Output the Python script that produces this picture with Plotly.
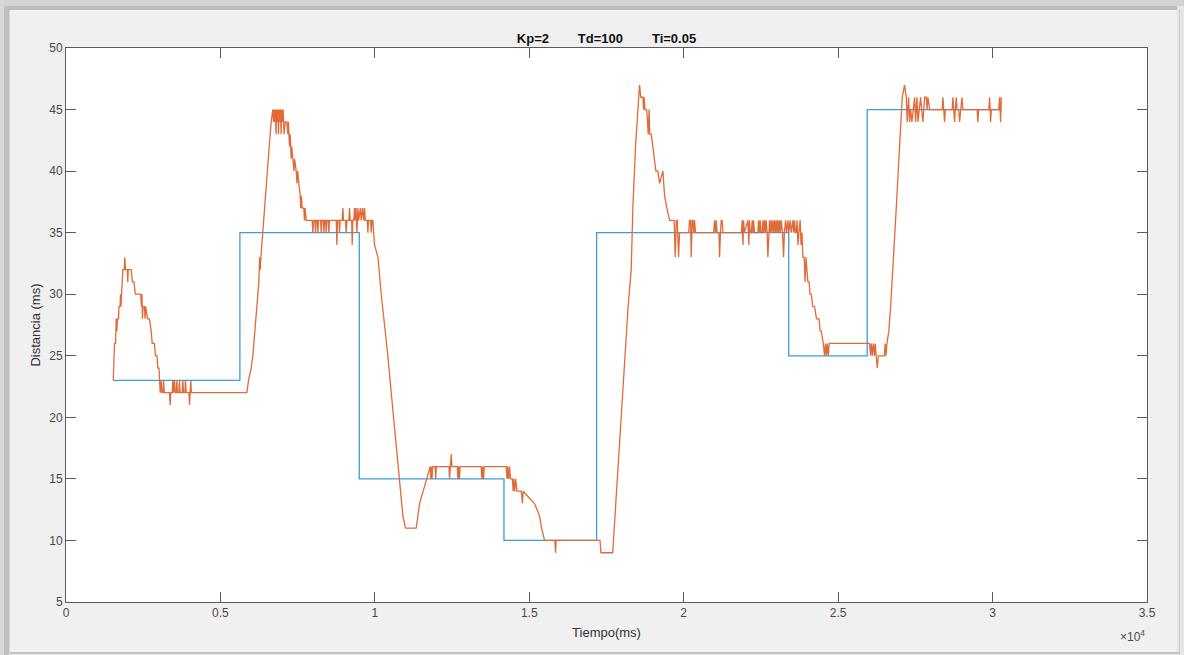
import plotly.graph_objects as go

# ---------------- data ----------------
# Reference (set-point) signal: value holds until the next time
ref_t = [1530, 5630, 9495, 14180, 17180, 23400, 25940, 30300]
ref_y = [23, 35, 15, 10, 35, 25, 45, 45]

out_t = [
    1530, 1570, 1605, 1625, 1645, 1665, 1700, 1715, 1750, 1765, 1780, 1795, 1815, 1840, 1885, 1905, 1925, 1985,
    2000, 2015, 2110, 2150, 2200, 2245, 2420, 2440, 2460, 2475, 2495, 2540, 2560, 2580, 2640, 2700, 2760, 2790,
    2860, 2898, 2950, 2973, 3010, 3030, 3050, 3082, 3105, 3140, 3160, 3180, 3350, 3373, 3395, 3440, 3459, 3480,
    3513, 3535, 3570, 3589, 3610, 3655, 3675, 3695, 3760, 3783, 3805, 3850, 3869, 3890, 3980, 3999, 4020, 4040,
    4060,
    5855, 5910, 5996, 6050, 6158, 6244, 6270, 6290, 6310, 6535, 6580, 6644, 6697,
    6720, 6740, 6760, 6780, 6800, 6820, 6845, 6860, 6880, 6900, 6920, 6945, 6965, 6985, 7010, 7030, 7060, 7080,
    7100, 7130, 7150, 7183, 7200, 7237, 7260, 7290, 7310, 7345, 7380, 7400, 7453, 7480, 7500, 7540, 7583, 7600,
    7620, 7647, 7700, 7720, 7740, 7777,
    7970, 7993, 8015, 8060, 8080, 8100, 8140, 8155, 8175, 8245, 8263, 8283, 8330, 8350, 8370, 8405, 8425, 8445,
    8490, 8511, 8530, 8750, 8770, 8790, 8840, 8856, 8875, 8940, 8964, 8985, 9050, 9072, 9095, 9160, 9180, 9200,
    9250, 9266, 9285, 9320, 9342, 9365, 9390, 9420, 9450, 9475, 9530, 9558, 9600, 9640, 9666, 9690, 9754, 9774,
    9795, 9862, 9882, 9905, 9935,
    9989, 10100, 10206, 10300, 10421, 10530, 10637, 10720, 10799, 10850, 10907, 10993, 11339, 11447, 11560, 11683,
    11793, 11810, 11830, 11850, 11870, 11950, 11970, 11990, 12400, 12419, 12440, 12473, 12495, 12670, 12689, 12710,
    12740, 12760, 13440, 13466, 13490, 13520, 13540, 14254, 14280, 14300, 14330, 14360, 14390, 14450, 14480, 14500,
    14530, 14560, 14600, 14740, 14780, 14800, 15170, 15332, 15400, 15494, 15830, 15850, 15870, 17290, 17320, 17700,
    17800, 18000, 18200, 18300, 18353, 18440, 18570,
    18610, 18680, 18700, 18720, 18745, 18800, 18830, 18850, 18880, 18900, 18950, 19001, 19050, 19100, 19163, 19218,
    19326, 19380, 19455, 19542,
    19690, 19725, 19758, 19790, 19833, 19865, 20160, 20189, 20221, 20243, 20275, 20297, 20330, 20351, 20380, 20970,
    20999, 21030, 21052, 21080, 21140, 21161, 21190, 21215, 21245, 21268, 21870, 21894, 21920, 21937, 21965, 22077,
    22110, 22130, 22153, 22190, 22218, 22240, 22261, 22290, 22400, 22423, 22450, 22477, 22500, 22540, 22564, 22590,
    22617, 22645, 22671, 22700, 22725, 22750, 22779, 22805, 22833, 22860, 22887, 22915, 22941, 22970, 22995, 23020,
    23049, 23075, 23103, 23130, 23157, 23200, 23233, 23260, 23297, 23330, 23373, 23400, 23448, 23480, 23535, 23560,
    23589, 23615, 23643,
    23670, 23700, 23730, 23770, 23800, 23830, 23858, 23900, 23930, 23960, 24020, 24060, 24090, 24130, 24180, 24236,
    24300, 24380, 24420, 24454, 24520, 24560, 24590, 24620, 24650, 24680, 24710, 26017, 26050, 26075, 26110, 26140,
    26180, 26200, 26230, 26267, 26300, 26500, 26520, 26550, 26580, 26640, 26700, 26772, 26826, 26882, 26989, 27044,
    27077, 27150,
    27206, 27238, 27281, 27314, 27346, 27389, 27422, 27476, 27508, 27551, 27584, 27638, 27670, 27702, 27745, 27800,
    27854, 27880, 27908, 27962, 28015, 28370, 28392, 28420, 28446, 28470, 28690, 28716, 28740, 28770, 28795, 28824,
    28850, 28905, 28932, 28960, 28986, 29010, 29040, 29500, 29524, 29550, 29880, 29903, 29920, 29935, 29960, 30200,
    30227, 30245, 30260, 30282,
]
out_y = [
    23, 26, 26, 28, 27, 28, 28, 29, 29, 30, 29, 30, 31, 32, 32, 33, 32, 32,
    31, 32, 32, 31, 31, 30, 30, 29, 30, 28, 29, 29, 28, 29, 28, 28, 27, 26,
    26, 25, 25, 24, 24, 23, 22, 23, 22, 22, 23, 22, 22, 21, 22, 22, 23, 22,
    23, 22, 22, 23, 22, 22, 23, 22, 22, 23, 22, 22, 23, 22, 22, 21, 22, 23,
    22,
    22, 23, 24, 25, 28, 31, 33, 32, 33, 41, 42, 44, 45,
    44, 45, 44, 45, 43, 45, 44, 45, 43, 45, 44, 45, 43, 45, 44, 45, 43, 44,
    44, 44, 44, 43, 44, 42, 43, 41, 42, 41, 40, 41, 40, 39, 40, 39, 38, 37,
    38, 37, 37, 36, 37, 36,
    36, 35, 36, 36, 35, 36, 36, 35, 36, 36, 35, 36, 36, 35, 36, 36, 35, 36,
    36, 35, 36, 36, 34, 36, 36, 35, 36, 36, 37, 36, 36, 35, 36, 36, 37, 36,
    36, 34, 36, 36, 37, 36, 37, 35, 37, 36, 37, 36, 37, 36, 37, 36, 36, 35,
    36, 36, 35, 36, 36,
    34, 33, 30, 28, 25, 22, 19, 17, 15, 13, 12, 11, 11, 13, 14, 15,
    16, 15, 16, 15, 16, 16, 15, 16, 16, 15, 16, 17, 16, 16, 15, 16,
    15, 16, 16, 15, 16, 15, 16, 16, 15, 16, 15, 16, 15, 15, 14, 15,
    14, 15, 14, 14, 13, 14, 13, 12, 11, 10, 10, 9, 10, 10, 9, 9,
    13, 21, 29, 32, 37, 42, 47,
    46, 46, 45, 46, 45, 45, 44, 43, 45, 43, 43, 42, 41, 40, 40, 39,
    40, 38, 37, 36,
    36, 33, 36, 36, 33, 35, 35, 36, 36, 33, 36, 36, 35, 36, 35, 35,
    36, 35, 36, 35, 35, 33, 35, 36, 36, 35, 35, 36, 34, 36, 35, 36,
    34, 36, 35, 35, 36, 35, 36, 35, 35, 36, 35, 36, 35, 35, 36, 35,
    36, 35, 36, 35, 33, 35, 36, 35, 36, 35, 36, 35, 36, 35, 36, 35,
    36, 35, 36, 35, 36, 35, 33, 35, 36, 35, 36, 35, 36, 35, 36, 35,
    36, 35, 35,
    36, 34, 35, 36, 34, 35, 33, 33, 31, 33, 31, 31, 30, 30, 29, 29,
    28, 28, 27, 27, 26, 25, 26, 25, 26, 25, 26, 26, 25, 26, 25, 26,
    25, 26, 25, 24, 25, 25, 26, 25, 26, 27, 29, 32, 34, 37, 42, 45,
    46, 47,
    46, 44, 46, 44, 45, 44, 45, 46, 44, 46, 44, 45, 46, 45, 44, 46,
    46, 45, 46, 45, 45, 45, 46, 45, 44, 45, 45, 46, 45, 44, 45, 46,
    45, 45, 44, 45, 46, 46, 45, 45, 44, 45, 45, 46, 45, 44, 45, 45,
    46, 45, 44, 46,
]

x_tickvals = [0, 5000, 10000, 15000, 20000, 25000, 30000, 35000]
x_ticktext = ["0", "0.5", "1", "1.5", "2", "2.5", "3", "3.5"]
y_tickvals = [5, 10, 15, 20, 25, 30, 35, 40, 45, 50]

# ---------------- figure ----------------
W, H = 1184, 655
L, R, T, B = 66, 1147, 48, 602


def pxx(px):
    return (px - L) / (R - L)


def pxy(py):
    return (B - py) / (B - T)


fig = go.Figure()
fig.add_trace(go.Scatter(x=ref_t, y=ref_y, mode="lines", line=dict(color="#3f9bdb", width=1.3, shape="hv"),
                         showlegend=False, hoverinfo="skip"))
fig.add_trace(go.Scatter(x=out_t, y=out_y, mode="lines", line=dict(color="#e06a38", width=1.3),
                         showlegend=False, hoverinfo="skip"))

axis_common = dict(showline=True, linecolor="#5a5a5a", linewidth=1, mirror="ticks", ticks="inside",
                   ticklen=10, tickwidth=1, tickcolor="#5a5a5a", showgrid=False, zeroline=False,
                   tickfont=dict(family="Liberation Sans, Arial, sans-serif", size=12, color="#4a4a4a"))

fig.update_xaxes(range=[0, 35000], tickvals=x_tickvals, ticktext=x_ticktext,
                 title=dict(text="Tiempo(ms)", standoff=8,
                            font=dict(family="Liberation Sans, Arial, sans-serif", size=13, color="#333333")),
                 **axis_common)
fig.update_yaxes(range=[5, 50], tickvals=y_tickvals,
                 title=dict(text="Distancia (ms)", standoff=5,
                            font=dict(family="Liberation Sans, Arial, sans-serif", size=13, color="#333333")),
                 **axis_common)

nb = "\u00a0" * 8
shapes = []


def band(x0, y0, x1, y1, color):
    shapes.append(dict(type="rect", xref="paper", yref="paper", x0=pxx(x0), x1=pxx(x1), y0=pxy(y1), y1=pxy(y0),
                       fillcolor=color, line=dict(width=0), layer="below"))


band(0, 0, W, 6, "#d4d4d4")
band(8, 6, 1177, 10, "#bdbdbd")
band(0, 0, 4, H, "#d8d8d8")
band(4, 6, 9, H, "#bfbfbf")
band(9, 10, 10, H, "#d9d9d9")
band(1177, 6, W, H, "#e4e4e4")
band(1179, 10, 1180, H, "#cfcfcf")
band(10, 652, 1179, 654, "#c4c4c4")
band(10, 654, 1179, H, "#e8e8e8")

fig.update_layout(
    width=W, height=H,
    margin=dict(l=L, r=W - R, t=T, b=H - B, pad=0),
    paper_bgcolor="#f0f0f0", plot_bgcolor="#ffffff",
    title=dict(text="<b>Kp=2" + nb + "Td=100" + nb + "Ti=0.05</b>", x=0.5, xref="paper", xanchor="center",
               y=1 - 38 / H, yanchor="middle",
               font=dict(family="Liberation Sans, Arial, sans-serif", size=13, color="#111111")),
    shapes=shapes,
    annotations=[dict(text="×10<sup>4</sup>", xref="paper", yref="paper", x=1.0, y=pxy(636),
                      xanchor="right", yanchor="middle", showarrow=False,
                      font=dict(family="Liberation Sans, Arial, sans-serif", size=12, color="#4a4a4a"))],
)

fig.write_html("out.html")
